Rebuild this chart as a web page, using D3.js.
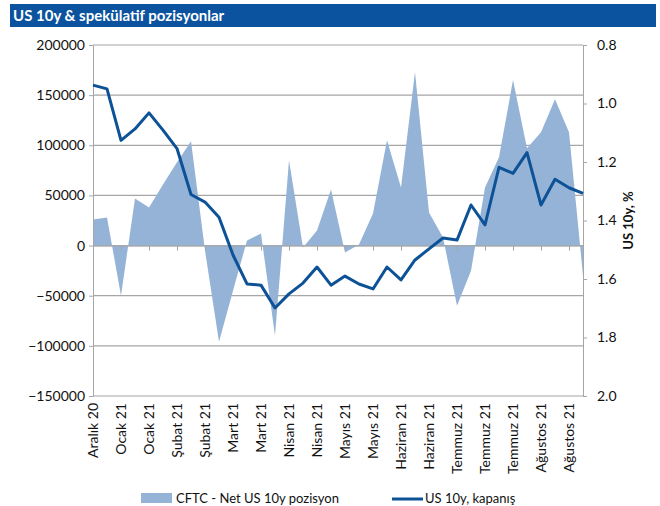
<!DOCTYPE html>
<html>
<head>
<meta charset="utf-8">
<script src="https://d3js.org/d3.v7.min.js"></script>
<style>
  body { margin: 0; background: #fff; }
  text { font-family: Lato, "Open Sans", sans-serif; fill: #111; }
</style>
</head>
<body>
<svg width="660" height="506"></svg>
<script>
// weekly points, labels every 2 weeks
const xLabels = ['Aralık 20', 'Ocak 21', 'Ocak 21', 'Şubat 21', 'Şubat 21', 'Mart 21', 'Mart 21',
  'Nisan 21', 'Nisan 21', 'Mayıs 21', 'Mayıs 21', 'Haziran 21', 'Haziran 21',
  'Temmuz 21', 'Temmuz 21', 'Temmuz 21', 'Ağustos 21', 'Ağustos 21'];

// CFTC net position (left axis)
const cftc = [26000, 28000, -50000, 47000, 38000, 61000, 83000, 104000, -5000, -96000,
  -45000, 5000, 12000, -90000, 85000, -2000, 15000, 56000, -7000, 1000,
  32000, 105000, 58000, 173000, 33000, 8000, -60000, -25000, 58000, 88000,
  165000, 97000, 113000, 146000, 113000, -30000];

// US 10y close (right axis, reversed)
const us10y = [0.937, 0.950, 1.126, 1.087, 1.032, 1.091, 1.154, 1.311, 1.337, 1.389,
  1.518, 1.617, 1.621, 1.699, 1.651, 1.614, 1.559, 1.621, 1.590, 1.617,
  1.634, 1.559, 1.603, 1.535, 1.497, 1.460, 1.467, 1.347, 1.415, 1.218,
  1.239, 1.168, 1.347, 1.259, 1.288, 1.307];

const leftTicks = [-150000, -100000, -50000, 0, 50000, 100000, 150000, 200000];
const rightTicks = [0.8, 1.0, 1.2, 1.4, 1.6, 1.8, 2.0];

const svg = d3.select('svg');
const L = 93, R = 583, T = 45, B = 396;

const xs = d3.scaleLinear().domain([0, cftc.length - 1]).range([L, R]);
const yl = d3.scaleLinear().domain([-150000, 200000]).range([B, T]);
const yr = d3.scaleLinear().domain([0.8, 2.0]).range([T, B]);

// title bar
svg.append('rect').attr('x', 10).attr('y', 4).attr('width', 646).attr('height', 23)
  .style('fill', '#0b539e');
svg.append('text').attr('x', 13).attr('y', 21)
  .style('fill', '#fff').style('font-weight', 'bold').style('font-size', '15px')
  .text('US 10y & spekülatif pozisyonlar');

// gridlines
svg.append('g').selectAll('line').data(leftTicks).enter().append('line')
  .attr('x1', L).attr('x2', R)
  .attr('y1', d => yl(d)).attr('y2', d => yl(d))
  .style('stroke', '#a6a6a6').style('stroke-width', 1.2);

// area
const area = d3.area()
  .x((d, i) => xs(i))
  .y0(yl(0))
  .y1(d => yl(d));
svg.append('path').datum(cftc).attr('d', area).style('fill', '#95b3d7');

// left axis
const gl = svg.append('g').attr('transform', `translate(${L},0)`)
  .call(d3.axisLeft(yl).tickValues(leftTicks).tickSize(4).tickPadding(4).tickFormat(d3.format('d')));
gl.select('.domain').style('stroke', '#a6a6a6');
gl.selectAll('line').style('stroke', '#a6a6a6');
gl.selectAll('text').style('font-size', '14px').style('font-family', 'Lato').style('fill', '#111');

// right axis
const gr = svg.append('g').attr('transform', `translate(${R},0)`)
  .call(d3.axisRight(yr).tickValues(rightTicks).tickSize(4).tickPadding(10).tickFormat(d3.format('.1f')));
gr.select('.domain').style('stroke', '#a6a6a6');
gr.selectAll('line').style('stroke', '#a6a6a6');
gr.selectAll('text').style('font-size', '14px').style('font-family', 'Lato').style('fill', '#111');

// zero line with category ticks
const tickIdx = xLabels.map((d, i) => i * 2);
const gz = svg.append('g').attr('transform', `translate(0,${yl(0)})`)
  .call(d3.axisBottom(xs).tickValues(tickIdx).tickSize(5).tickFormat(''));
gz.select('.domain').style('stroke', '#a6a6a6');
gz.selectAll('line').style('stroke', '#a6a6a6');

// category labels at the bottom
const gx = svg.append('g').attr('transform', `translate(0,${B})`)
  .call(d3.axisBottom(xs).tickValues(tickIdx).tickSize(0).tickFormat((d, i) => xLabels[i]));
gx.select('.domain').remove();
gx.selectAll('text')
  .attr('transform', 'rotate(-90)')
  .attr('x', -7).attr('y', 0).attr('dy', '0.35em')
  .style('text-anchor', 'end')
  .style('font-size', '14px').style('font-family', 'Lato').style('fill', '#111');

// line
const line = d3.line().x((d, i) => xs(i)).y(d => yr(d));
svg.append('path').datum(us10y).attr('d', line)
  .style('fill', 'none').style('stroke', '#0d5296').style('stroke-width', 3)
  .style('stroke-linejoin', 'round');

// right axis title
svg.append('text')
  .attr('transform', `translate(633,${(T + B) / 2}) rotate(-90)`)
  .style('text-anchor', 'middle').style('font-weight', 'bold').style('font-size', '13px')
  .text('US 10y, %');

// legend
svg.append('rect').attr('x', 141).attr('y', 493).attr('width', 31).attr('height', 10)
  .style('fill', '#95b3d7');
svg.append('text').attr('x', 176).attr('y', 503).style('font-size', '13px')
  .text('CFTC - Net US 10y pozisyon');
svg.append('line').attr('x1', 392).attr('x2', 423).attr('y1', 499).attr('y2', 499)
  .style('stroke', '#0d5296').style('stroke-width', 3);
svg.append('text').attr('x', 425).attr('y', 503).style('font-size', '13px')
  .text('US 10y, kapanış');
</script>
</body>
</html>
